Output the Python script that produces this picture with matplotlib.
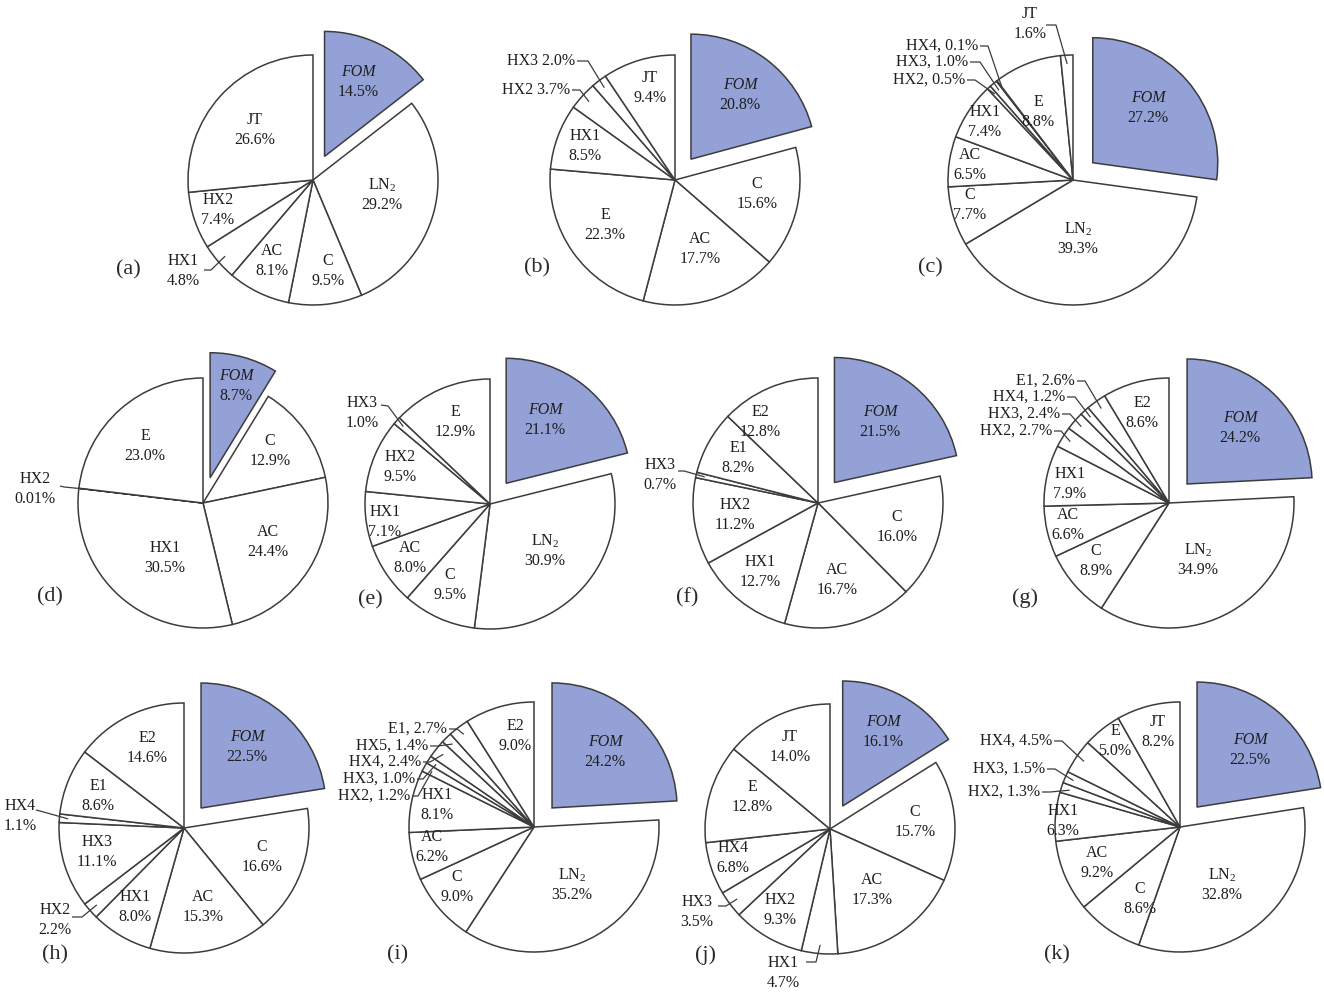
import matplotlib
matplotlib.use("Agg")
import matplotlib.pyplot as plt
import numpy as np

plt.rcParams["font.family"] = ["Liberation Serif", "DejaVu Serif"]
plt.rcParams["mathtext.fontset"] = "custom"
plt.rcParams["mathtext.rm"] = "Liberation Serif"
plt.rcParams["mathtext.it"] = "Liberation Serif:italic"

# ---------------------------------------------------------------------------
# Exergy-destruction shares (%) per configuration, clockwise from 12 o'clock
# ---------------------------------------------------------------------------
a_names = ["FOM", "LN2", "C", "AC", "HX1", "HX2", "JT"]
a_values = [14.5, 29.2, 9.5, 8.1, 4.8, 7.4, 26.6]

b_names = ["FOM", "C", "AC", "E", "HX1", "HX2", "HX3", "JT"]
b_values = [20.8, 15.6, 17.7, 22.3, 8.5, 3.7, 2.0, 9.4]

c_names = ["FOM", "LN2", "C", "AC", "HX1", "HX2", "HX3", "HX4", "E", "JT"]
c_values = [27.2, 39.3, 7.7, 6.5, 7.4, 0.5, 1.0, 0.1, 8.8, 1.6]

d_names = ["FOM", "C", "AC", "HX1", "HX2", "E"]
d_values = [8.7, 12.9, 24.4, 30.5, 0.01, 23.0]

e_names = ["FOM", "LN2", "C", "AC", "HX1", "HX2", "HX3", "E"]
e_values = [21.1, 30.9, 9.5, 8.0, 7.1, 9.5, 1.0, 12.9]

f_names = ["FOM", "C", "AC", "HX1", "HX2", "HX3", "E1", "E2"]
f_values = [21.5, 16.0, 16.7, 12.7, 11.2, 0.7, 8.2, 12.8]

g_names = ["FOM", "LN2", "C", "AC", "HX1", "HX2", "HX3", "HX4", "E1", "E2"]
g_values = [24.2, 34.9, 8.9, 6.6, 7.9, 2.7, 2.4, 1.2, 2.6, 8.6]

h_names = ["FOM", "C", "AC", "HX1", "HX2", "HX3", "HX4", "E1", "E2"]
h_values = [22.5, 16.6, 15.3, 8.0, 2.2, 11.1, 1.1, 8.6, 14.6]

i_names = ["FOM", "LN2", "C", "AC", "HX1", "HX2", "HX3", "HX4", "HX5", "E1", "E2"]
i_values = [24.2, 35.2, 9.0, 6.2, 8.1, 1.2, 1.0, 2.4, 1.4, 2.7, 9.0]

j_names = ["FOM", "C", "AC", "HX1", "HX2", "HX3", "HX4", "E", "JT"]
j_values = [16.1, 15.7, 17.3, 4.7, 9.3, 3.5, 6.8, 12.8, 14.0]

k_names = ["FOM", "LN2", "C", "AC", "HX1", "HX2", "HX3", "HX4", "E", "JT"]
k_values = [22.5, 32.8, 8.6, 9.2, 6.3, 1.3, 1.5, 4.5, 5.0, 8.2]

panel_tags = ["(a)", "(b)", "(c)", "(d)", "(e)", "(f)", "(g)", "(h)", "(i)", "(j)", "(k)"]

# ---------------------------------------------------------------------------
# Layout (canvas pixels, y downwards)
# ---------------------------------------------------------------------------
W, H = 1324, 992
RADIUS = 125
EXPLODE = 0.21          # fraction of the radius

layout = {
    "(a)": dict(
        names=a_names, values=a_values, center=(313, 180), tag=(128, 270),
        inner={"FOM": (358, 82), "JT": (255, 130), "LN2": (382, 195),
               "C": (328, 271), "AC": (272, 261), "HX2": (218, 210)},
        outer={"HX1": ((183, 271), "stack", (204, 270), (211, 270))},
    ),
    "(b)": dict(
        names=b_names, values=b_values, center=(675, 180), tag=(537, 268),
        inner={"FOM": (740, 95), "JT": (650, 88), "C": (757, 194),
               "AC": (700, 249), "E": (605, 225), "HX1": (585, 146)},
        outer={"HX3": ((575, 61), "space", (577, 61), (588, 61)),
               "HX2": ((570, 90), "space", (572, 90), (580, 90))},
    ),
    "(c)": dict(
        names=c_names, values=c_values, center=(1073, 180), tag=(930, 268),
        inner={"FOM": (1148, 108), "E": (1038, 112), "HX1": (985, 122),
               "AC": (970, 165), "C": (970, 205), "LN2": (1078, 239)},
        outer={"JT": ((1030, 24), "stack", (1046, 25), (1056, 25)),
               "HX4": ((978, 46), "comma", (980, 46), (988, 46)),
               "HX3": ((968, 62), "comma", (970, 62), (980, 62)),
               "HX2": ((965, 80), "comma", (967, 80), (975, 80))},
    ),
    "(d)": dict(
        names=d_names, values=d_values, center=(203, 503), tag=(50, 597),
        inner={"FOM": (236, 386), "C": (270, 451), "AC": (268, 542),
               "HX1": (165, 558), "E": (145, 446)},
        outer={"HX2": ((35, 489), "stack", (60, 486), (64, 487))},
    ),
    "(e)": dict(
        names=e_names, values=e_values, center=(490, 504), tag=(370, 600),
        inner={"FOM": (545, 420), "LN2": (545, 551), "C": (450, 585),
               "AC": (410, 558), "HX1": (385, 522), "HX2": (400, 467),
               "E": (455, 422)},
        outer={"HX3": ((362, 413), "stack", (381, 405), (388, 406))},
    ),
    "(f)": dict(
        names=f_names, values=f_values, center=(818, 503), tag=(687, 598),
        inner={"FOM": (880, 422), "E2": (760, 422), "E1": (738, 458),
               "HX2": (735, 515), "HX1": (760, 572), "AC": (837, 580),
               "C": (897, 527)},
        outer={"HX3": ((660, 475), "stack", (678, 471), (684, 471))},
    ),
    "(g)": dict(
        names=g_names, values=g_values, center=(1169, 503), tag=(1025, 598),
        inner={"FOM": (1240, 428), "E2": (1142, 413), "HX1": (1070, 484),
               "AC": (1068, 525), "C": (1096, 561), "LN2": (1198, 560)},
        outer={"E1": ((1075, 381), "comma", (1077, 381), (1085, 381)),
               "HX4": ((1065, 397), "comma", (1067, 397), (1075, 397)),
               "HX3": ((1060, 414), "comma", (1062, 414), (1070, 414)),
               "HX2": ((1052, 431), "comma", (1054, 431), (1061, 431))},
    ),
    "(h)": dict(
        names=h_names, values=h_values, center=(184, 828), tag=(55, 955),
        inner={"FOM": (247, 747), "E2": (147, 748), "E1": (98, 796),
               "HX3": (97, 852), "HX1": (135, 907), "AC": (203, 907),
               "C": (262, 857)},
        outer={"HX4": ((20, 816), "stack", (36, 810), (40, 811)),
               "HX2": ((55, 920), "stack", (72, 917), (82, 917))},
    ),
    "(i)": dict(
        names=i_names, values=i_values, center=(534, 827), tag=(398, 955),
        inner={"FOM": (605, 752), "E2": (515, 736), "HX1": (437, 805),
               "AC": (432, 847), "C": (457, 887), "LN2": (572, 885)},
        outer={"E1": ((447, 729), "comma", (449, 729), (457, 729)),
               "HX5": ((428, 746), "comma", (430, 746), (438, 746)),
               "HX4": ((421, 762), "comma", (423, 762), (430, 762)),
               "HX3": ((415, 779), "comma", (417, 779), (423, 779)),
               "HX2": ((410, 796), "comma", (412, 796), (418, 796))},
    ),
    "(j)": dict(
        names=j_names, values=j_values, center=(830, 829), tag=(705, 955),
        inner={"FOM": (883, 732), "JT": (790, 747), "E": (752, 797),
               "HX4": (733, 858), "HX2": (780, 910), "AC": (872, 890),
               "C": (915, 822)},
        outer={"HX3": ((697, 912), "stack", (718, 906), (726, 906)),
               "HX1": ((783, 973), "stack", (806, 962), (816, 962))},
    ),
    "(k)": dict(
        names=k_names, values=k_values, center=(1180, 827), tag=(1057, 955),
        inner={"FOM": (1250, 750), "JT": (1158, 732), "E": (1115, 741),
               "HX1": (1063, 821), "AC": (1097, 863), "C": (1140, 899),
               "LN2": (1222, 885)},
        outer={"HX4": ((1052, 741), "comma", (1054, 741), (1062, 741)),
               "HX3": ((1045, 769), "comma", (1047, 769), (1055, 769)),
               "HX2": ((1040, 792), "comma", (1042, 792), (1050, 792))},
    ),
}

FOM_COLOR = "#93a1d7"
EDGE_COLOR = "#3c3c3c"
TEXT_COLOR = "#1e1e1e"
LABEL_SIZE = 11.5


def pretty(name):
    if name == "LN2":
        return r"LN$_{\mathrm{2}}$"
    return name


def pct(v):
    return f"{v:.2f}%" if v < 0.05 else f"{v:.1f}%"


fig = plt.figure(figsize=(W / 100, H / 100), dpi=100)
ax = fig.add_axes([0, 0, 1, 1])

for tag in panel_tags:
    spec = layout[tag]
    names, values = spec["names"], spec["values"]
    colors = [FOM_COLOR if n == "FOM" else "white" for n in names]
    # pie() shifts an exploded wedge by this amount in data units
    explode = [EXPLODE * RADIUS if n == "FOM" else 0.0 for n in names]
    wedges, _ = ax.pie(
        values, colors=colors, explode=explode, center=spec["center"],
        radius=RADIUS, startangle=-90, counterclock=True, frame=True,
        wedgeprops=dict(edgecolor=EDGE_COLOR, linewidth=1.1),
    )
    for name, val, wdg in zip(names, values, wedges):
        if name in spec["inner"]:
            x, y = spec["inner"][name]
            first = "FOM" if name == "FOM" else pretty(name)
            ax.text(x, y - 10, first, ha="center", va="center",
                    fontsize=LABEL_SIZE, color=TEXT_COLOR,
                    style="italic" if name == "FOM" else "normal")
            ax.text(x, y + 10, pct(val), ha="center", va="center",
                    fontsize=LABEL_SIZE, color=TEXT_COLOR)
        elif name in spec["outer"]:
            (tx, ty), style, start, elbow = spec["outer"][name]
            if style == "stack":
                ax.text(tx, ty - 10, name, ha="center", va="center",
                        fontsize=LABEL_SIZE, color=TEXT_COLOR)
                ax.text(tx, ty + 10, pct(val), ha="center", va="center",
                        fontsize=LABEL_SIZE, color=TEXT_COLOR)
            else:
                sep = ", " if style == "comma" else " "
                ax.text(tx, ty, f"{name}{sep}{pct(val)}", ha="right",
                        va="center", fontsize=LABEL_SIZE, color=TEXT_COLOR)
            mid = np.deg2rad((wdg.theta1 + wdg.theta2) / 2)
            cx, cy = wdg.center
            end = (cx + 0.93 * wdg.r * np.cos(mid), cy + 0.93 * wdg.r * np.sin(mid))
            ax.plot([start[0], elbow[0], end[0]], [start[1], elbow[1], end[1]],
                    color=EDGE_COLOR, lw=0.9, solid_capstyle="butt")
    ax.text(spec["tag"][0], spec["tag"][1], tag, ha="center", va="center",
            fontsize=16, color="#2a2a2a")

ax.set_xlim(0, W)
ax.set_ylim(H, 0)
ax.set_aspect("equal")
ax.axis("off")

fig.savefig("out.png", dpi=100, facecolor="white")
